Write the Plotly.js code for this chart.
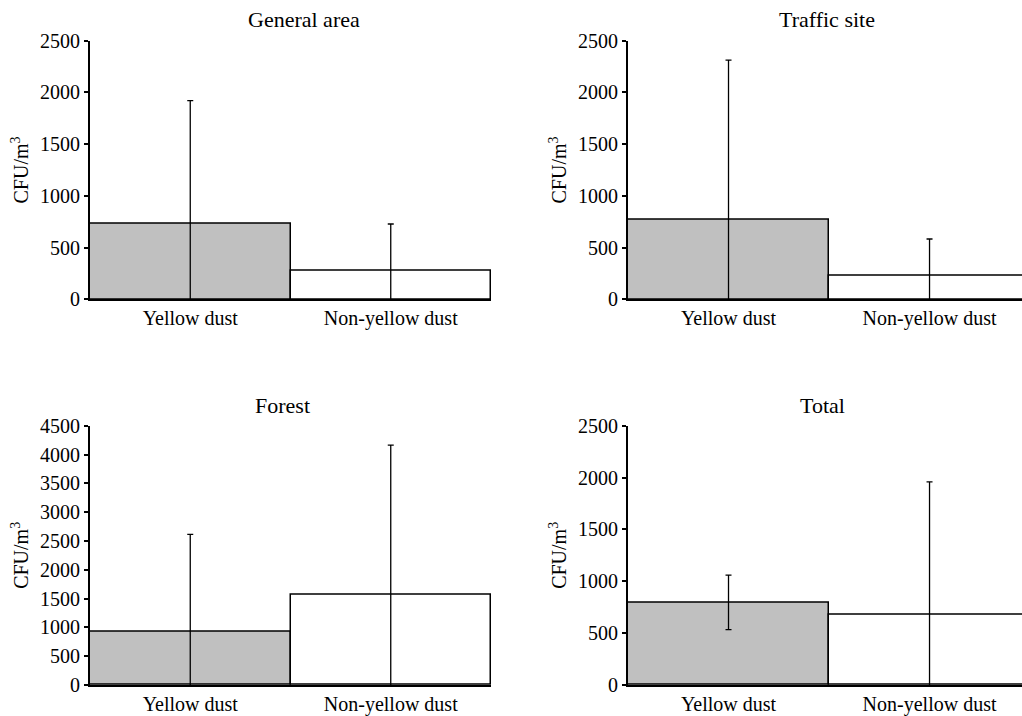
<!DOCTYPE html>
<html>
<head>
<meta charset="utf-8">
<script src="https://cdn.plot.ly/plotly-3.0.1.min.js"></script>
</head>
<body style="margin:0;background:#fff">
<div id="chart" style="width:1022px;height:716px"></div>
<script>
const categories = ['Yellow dust', 'Non-yellow dust'];
const panelTitles = ['General area', 'Traffic site', 'Forest', 'Total'];
const generalMean = [728, 276];
const generalErr = [1192, 452];
const trafficMean = [767, 225];
const trafficErr = [1546, 358];
const forestMean = [923, 1568];
const forestErr = [1690, 2596];
const totalMean = [797, 677];
const totalErr = [263, 1281];
const yMax = [2500, 2500, 4500, 2500];

const W = 1022, H = 716;
const FONT = 'Liberation Serif';
const barColors = ['#c0c0c0', '#ffffff'];

function barTrace(means, errs, xa, ya) {
  return {
    type: 'bar', x: categories, y: means, xaxis: xa, yaxis: ya,
    width: 1,
    marker: {color: barColors, line: {color: '#000', width: 1.5}},
    error_y: {type: 'data', array: errs, visible: true, color: '#000', thickness: 1.3, width: 3},
    hoverinfo: 'none', showlegend: false
  };
}

const data = [
  barTrace(generalMean, generalErr, 'x', 'y'),
  barTrace(trafficMean, trafficErr, 'x2', 'y2'),
  barTrace(forestMean, forestErr, 'x3', 'y3'),
  barTrace(totalMean, totalErr, 'x4', 'y4')
];

const leftDom = [90 / W, 491 / W];
const rightDom = [628 / W, 1];
const topDom = [(H - 299.3) / H, (H - 40.7) / H];
const botDom = [(H - 685) / H, (H - 425.7) / H];

function xAx(dom, anchor, right) {
  return {
    domain: dom, anchor: anchor, range: right ? [-0.5, 1.46] : [-0.5, 1.5],
    showline: true, linecolor: '#000', linewidth: 2, ticks: '', showgrid: false, zeroline: false,
    tickfont: {family: FONT, size: 20, color: '#000'}
  };
}
function yAx(dom, anchor, max) {
  return {
    domain: dom, anchor: anchor, range: [0, max], dtick: 500, tick0: 0,
    showline: true, linecolor: '#000', linewidth: 2, ticks: 'outside', ticklen: 4, tickwidth: 1.5, tickcolor: '#000',
    showgrid: false, zeroline: false,
    tickfont: {family: FONT, size: 20, color: '#000'},
    title: {text: 'CFU/m<sup>3</sup>', font: {family: FONT, size: 20, color: '#000'}, standoff: 6}
  };
}

const titlePos = [[304, 19], [827, 19], [282, 405], [822, 405]];
const annotations = panelTitles.map((t, i) => ({
  text: t, xref: 'paper', yref: 'paper', x: titlePos[i][0] / W, y: 1 - titlePos[i][1] / H,
  xanchor: 'center', yanchor: 'middle', showarrow: false,
  font: {family: FONT, size: 22, color: '#000'}
}));

const layout = {
  width: W, height: H,
  margin: {l: 0, r: 0, t: 0, b: 0},
  paper_bgcolor: '#fff', plot_bgcolor: '#fff',
  bargap: 0,
  xaxis: xAx(leftDom, 'y', false),
  yaxis: yAx(topDom, 'x', yMax[0]),
  xaxis2: xAx(rightDom, 'y2', true),
  yaxis2: yAx(topDom, 'x2', yMax[1]),
  xaxis3: xAx(leftDom, 'y3', false),
  yaxis3: yAx(botDom, 'x3', yMax[2]),
  xaxis4: xAx(rightDom, 'y4', true),
  yaxis4: yAx(botDom, 'x4', yMax[3]),
  annotations: annotations
};

Plotly.newPlot('chart', data, layout, {displayModeBar: false});
</script>
</body>
</html>
